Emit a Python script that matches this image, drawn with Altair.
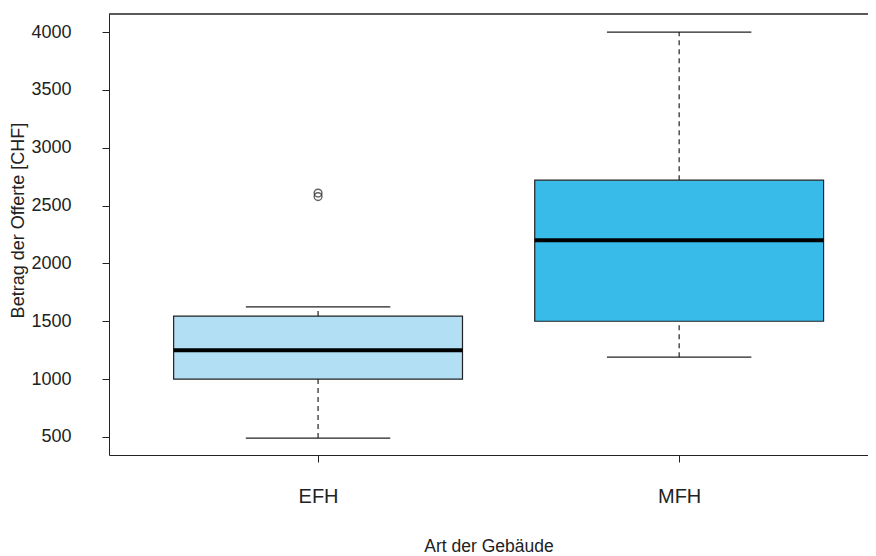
import altair as alt
import pandas as pd

categories = ["EFH", "MFH"]
lower_whisker = [490, 1190]
q1 = [1000, 1500]
median = [1250, 2200]
q3 = [1545, 2720]
upper_whisker = [1625, 4000]
fills = ["#b3dff4", "#38bbe9"]

outlier_cat = ["EFH", "EFH"]
outlier_val = [2578, 2608]

y_ticks = [500, 1000, 1500, 2000, 2500, 3000, 3500, 4000]

W, H = 759, 441
FONT = "Arial, Liberation Sans, sans-serif"

box_df = pd.DataFrame({
    "cat": categories,
    "pos": [i + 1 for i in range(len(categories))],
    "lo": lower_whisker,
    "q1": q1,
    "med": median,
    "q3": q3,
    "hi": upper_whisker,
    "fill": fills,
})
pos_map = {c: i + 1 for i, c in enumerate(categories)}
out_df = pd.DataFrame({
    "cat": outlier_cat,
    "pos": [pos_map[c] for c in outlier_cat],
    "val": outlier_val,
})

xscale = alt.Scale(domain=[0.421, 2.523], nice=False, zero=False)
yscale = alt.Scale(domain=[344, 4156], nice=False, zero=False)

xaxis = alt.Axis(
    values=[1, 2],
    labelExpr="datum.value == 1 ? 'EFH' : 'MFH'",
    title="Art der Gebäude",
    grid=False,
    domainColor="#222", tickColor="#222", tickSize=7,
    labelFont=FONT, labelFontSize=20, labelColor="#222",
    labelPadding=34, labelBaseline="middle",
    titleFont=FONT, titleFontSize=17.5, titleFontWeight="normal", titleColor="#222",
    titleY=91, titleBaseline="middle",
)
yaxis = alt.Axis(
    values=y_ticks,
    format="d",
    title="Betrag der Offerte [CHF]",
    grid=False,
    domainColor="#222", tickColor="#222", tickSize=7,
    labelFont=FONT, labelFontSize=18, labelColor="#222",
    labelPadding=31,
    titleFont=FONT, titleFontSize=18, titleFontWeight="normal", titleColor="#222",
    titleX=-91, titleY=206, titleBaseline="middle", titleAngle=270,
)

base = alt.Chart(box_df)

whisker_up = base.mark_rule(color="#222", strokeDash=[5, 4], strokeWidth=1.2).encode(
    x=alt.X("pos:Q", scale=xscale, axis=xaxis),
    y=alt.Y("q3:Q", scale=yscale, axis=yaxis),
    y2="hi:Q",
)
whisker_lo = base.mark_rule(color="#222", strokeDash=[5, 4], strokeWidth=1.2).encode(
    x="pos:Q", y="lo:Q", y2="q1:Q",
)
caps_hi = base.transform_calculate(a="datum.pos - 0.2", b="datum.pos + 0.2").mark_rule(
    color="#222", strokeWidth=1.2).encode(x="a:Q", x2="b:Q", y="hi:Q")
caps_lo = base.transform_calculate(a="datum.pos - 0.2", b="datum.pos + 0.2").mark_rule(
    color="#222", strokeWidth=1.2).encode(x="a:Q", x2="b:Q", y="lo:Q")
boxes = base.transform_calculate(a="datum.pos - 0.4", b="datum.pos + 0.4").mark_rect(
    stroke="#222", strokeWidth=1.2).encode(
    x="a:Q", x2="b:Q", y="q1:Q", y2="q3:Q",
    fill=alt.Fill("fill:N", scale=None),
)
medians = base.transform_calculate(a="datum.pos - 0.4", b="datum.pos + 0.4").mark_rule(
    color="#000", strokeWidth=4).encode(x="a:Q", x2="b:Q", y="med:Q")
outliers = alt.Chart(out_df).mark_point(
    shape="circle", size=60, filled=False, color="#222", strokeWidth=1.4).encode(
    x="pos:Q", y="val:Q")
top_line = alt.Chart(box_df).mark_rule(color="#222", strokeWidth=1).encode(
    x=alt.value(0), x2=alt.value(W), y=alt.value(0))

chart = alt.layer(
    whisker_up, whisker_lo, caps_hi, caps_lo, boxes, medians, outliers, top_line
).properties(
    width=W, height=H,
    autosize=alt.AutoSizeParams(type="none"),
    padding={"left": 101, "top": 6, "right": 0, "bottom": 101},
    background="white",
).configure_view(stroke=None)

chart.save("out.html", embed_options={"renderer": "svg", "actions": False})
